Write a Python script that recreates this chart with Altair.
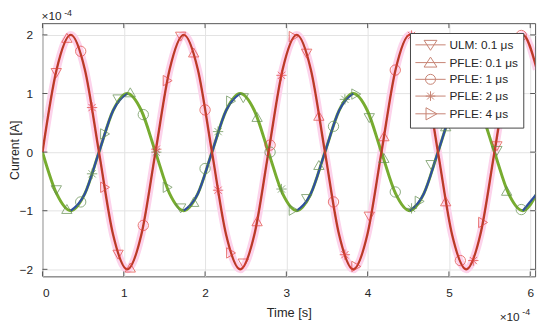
import altair as alt
import pandas as pd

# time in units of 1e-4 s, current in units of 1e-4 A
curve_t = [0, 0.174, 0.348, 0.521, 0.695, 0.869, 1.043, 1.216, 1.39, 1.564, 1.738, 1.911,
           2.085, 2.259, 2.433, 2.606, 2.78, 2.954, 3.128, 3.301, 3.475, 3.649, 3.823, 3.996,
           4.17, 4.344, 4.518, 4.691, 4.865, 5.039, 5.213, 5.386, 5.56, 5.734, 5.908, 6.081]
red_curve = [0, 1.41, 2.0, 1.41, 0, -1.41, -2.0, -1.41, 0, 1.41, 2.0, 1.41,
             0, -1.41, -2.0, -1.41, 0, 1.41, 2.0, 1.41, 0, -1.41, -2.0, -1.41,
             0, 1.41, 2.0, 1.41, 0, -1.41, -2.0, -1.41, 0, 1.41, 2.0, 1.41]
green_curve = [0, -0.71, -1.0, -0.71, 0, 0.71, 1.0, 0.71, 0, -0.71, -1.0, -0.71,
               0, 0.71, 1.0, 0.71, 0, -0.71, -1.0, -0.71, 0, 0.71, 1.0, 0.71,
               0, -0.71, -1.0, -0.71, 0, 0.71, 1.0, 0.71, 0, -0.71, -1.0, -0.71]
blue_from = [0.348, 1.738, 3.128, 4.518, 5.908]
blue_to = [1.043, 2.433, 3.823, 5.213, 6.081]

series = ["ULM: 0.1 μs", "PFLE: 0.1 μs", "PFLE: 1 μs", "PFLE: 2 μs", "PFLE: 4 μs"]
mk_t = [
    [0.17, 0.93, 1.70, 2.47, 3.25, 4.02, 4.78, 5.59],
    [0.30, 1.08, 1.86, 2.64, 3.40, 4.20, 4.96, 5.71],
    [0.47, 1.24, 2.00, 2.80, 3.58, 4.34, 5.14, 5.89],
    [0.61, 1.40, 2.16, 2.94, 3.72, 4.54, 5.30],
    [0.77, 1.54, 2.32, 3.09, 3.86, 4.64, 5.42],
]
mk_red = [
    [1.35, -1.75, 1.97, -1.9, 1.68, -1.1, 0.6, 0.1],
    [1.95, -1.97, 1.70, -1.18, 0.62, 0.27, -0.84, 1.25],
    [1.72, -1.25, 0.72, 0.12, -0.85, 1.40, -1.85, 1.99],
    [0.76, 0.05, -0.65, 1.31, -1.75, 1.99, -1.85],
    [-0.6, 1.22, -1.72, 1.97, -1.95, 1.68, -1.2],
]
mk_green = [
    [-0.65, 0.9, -0.96, 0.92, -0.8, 0.58, -0.22, 0.02],
    [-0.97, 1.02, -0.85, 0.6, -0.22, -0.1, 0.44, -0.66],
    [-0.85, 0.64, -0.28, 0.0, 0.44, -0.68, 0.93, -0.98],
    [-0.37, 0.0, 0.35, -0.63, 0.9, -0.96, 0.92],
    [0.31, -0.6, 0.87, -0.99, 0.99, -0.84, 0.6],
]
x_ticks = [0, 1, 2, 3, 4, 5, 6]
y_ticks = [-2, -1, 0, 1, 2]

W, H = 500, 257
XDOM, YDOM = [0, 6.06], [-2.12, 2.2]
XT, YT = "Time [s]", "Current [A]"

curve = pd.DataFrame({"t": curve_t, "red": red_curve, "green": green_curve})
blue_rows = []
for i, (a, b) in enumerate(zip(blue_from, blue_to)):
    for tt, g in zip(curve_t, green_curve):
        if a - 1e-9 <= tt <= b + 1e-9:
            blue_rows.append({"t": tt, "green": g, "seg": i})
blue = pd.DataFrame(blue_rows)

mrows = []
for s, ts, rs, gs in zip(series, mk_t, mk_red, mk_green):
    for tt, r, g in zip(ts, rs, gs):
        mrows.append({"t": tt, "red": r, "green": g, "series": s})
markers = pd.DataFrame(mrows)

xs = alt.Scale(domain=XDOM, nice=False, zero=False)
ys = alt.Scale(domain=YDOM, nice=False, zero=False)
ax_x = alt.Axis(values=x_ticks, grid=True, gridColor="#e3e3e3", ticks=False, domain=False,
                labelFontSize=12, labelFont="Liberation Sans", labelColor="#262626", labelPadding=11,
                titleFontSize=13, titleFont="Liberation Sans", titleColor="#262626", titleFontWeight="normal",
                titlePadding=9)
ax_y = alt.Axis(values=y_ticks, grid=True, gridColor="#e3e3e3", ticks=False, domain=False,
                labelFontSize=12, labelFont="Liberation Sans", labelColor="#262626", labelPadding=10,
                titleFontSize=12.5, titleFont="Liberation Sans", titleColor="#262626", titleFontWeight="normal",
                titleX=-21, titleY=H / 2, titleBaseline="bottom", titleAngle=270, titleAlign="center")

X = alt.X("t:Q", scale=xs, axis=ax_x, title=XT)
def Y(f):
    return alt.Y(f, scale=ys, axis=ax_y, title=YT)

base = alt.Chart(curve)
pink = base.mark_line(color="#fcd3eb", strokeWidth=8, interpolate="monotone", clip=True).encode(
    x=X, y=Y("red:Q"))
green = base.mark_line(color="#77ac30", strokeWidth=3, interpolate="monotone", clip=True).encode(
    x=X, y=Y("green:Q"))
bluel = alt.Chart(blue).mark_line(color="#2f4fa0", strokeWidth=2.2, interpolate="monotone", clip=True).encode(
    x=X, y=Y("green:Q"), detail="seg:N")
red = base.mark_line(color="#d9362c", strokeWidth=2.4, interpolate="monotone", clip=True).encode(
    x=X, y=Y("red:Q"))
redc = base.mark_line(color="#96472a", strokeWidth=0.9, interpolate="monotone", clip=True).encode(
    x=X, y=Y("red:Q"))

ast = "M-1,0L1,0M0,-1L0,1M-0.7,-0.7L0.7,0.7M-0.7,0.7L0.7,-0.7"
shp = alt.Scale(domain=series, range=["triangle-down", "triangle-up", "circle", ast, "triangle-right"])
mred = alt.Chart(markers).mark_point(filled=False, color="#e0403a", strokeWidth=1, size=110, clip=True).encode(
    x=X, y=Y("red:Q"), shape=alt.Shape("series:N", scale=shp, legend=None))
mgreen = alt.Chart(markers).mark_point(filled=False, color="#5e8a4a", strokeWidth=1, size=110, clip=True).encode(
    x=X, y=Y("green:Q"), shape=alt.Shape("series:N", scale=shp, legend=None))

# legend symbols: line with marker
cx = 1.36
L = "M-1,0L3.72,0"
lg_paths = [
    L + f"M{cx-1.0},-0.7L{cx+1.0},-0.7L{cx},0.85Z",
    L + f"M{cx-1.0},0.7L{cx+1.0},0.7L{cx},-0.85Z",
    L + f"M{cx+0.78},0A0.78,0.78 0 1,1 {cx-0.78},0A0.78,0.78 0 1,1 {cx+0.78},0",
    L + f"M{cx-0.75},0L{cx+0.75},0M{cx},-0.75L{cx},0.75M{cx-0.53},-0.53L{cx+0.53},0.53M{cx-0.53},0.53L{cx+0.53},-0.53",
    L + f"M{cx-0.7},-0.95L{cx-0.7},0.95L{cx+1.0},0Z",
]
leg_df = pd.DataFrame({"series": series, "t": [-10] * 5, "v": [0] * 5})
legend_layer = alt.Chart(leg_df).mark_point(filled=False, color="#b0503a", strokeWidth=1, size=169, clip=True).encode(
    x=X, y=Y("v:Q"),
    shape=alt.Shape("series:N", scale=alt.Scale(domain=series, range=lg_paths),
                    legend=alt.Legend(title=None, orient="none", legendX=373, legendY=10,
                                      symbolSize=169, symbolStrokeWidth=1, labelOffset=21,
                                      labelFontSize=12, labelFont="Liberation Sans", labelColor="#262626",
                                      rowPadding=2, padding=5, strokeColor="#444", fillColor="white",
                                      symbolFillColor="transparent", symbolStrokeColor="#b0503a")))

tk = pd.DataFrame({"t": x_ticks})
tky = pd.DataFrame({"v": y_ticks})
tick_col = "#555555"
tb = alt.Chart(tk).mark_rule(color=tick_col).encode(x=X, y=alt.value(H), y2=alt.value(H - 5))
tt_ = alt.Chart(tk).mark_rule(color=tick_col).encode(x=X, y=alt.value(0), y2=alt.value(5))
tl = alt.Chart(tky).mark_rule(color=tick_col).encode(y=Y("v:Q"), x=alt.value(0), x2=alt.value(5))
tr = alt.Chart(tky).mark_rule(color=tick_col).encode(y=Y("v:Q"), x=alt.value(W), x2=alt.value(W - 5))

txt = pd.DataFrame({"a": [0]})
def label(s, x, y, size):
    return alt.Chart(txt).mark_text(text=s, align="left", baseline="alphabetic", fontSize=size,
                                    font="Liberation Sans", color="#262626").encode(x=alt.value(x), y=alt.value(y))

e1 = label("×10", -1, -3, 12)
e2 = label("-4", 22, -7, 9)
e3 = label("×10", 464, 302, 12)
e4 = label("-4", 487, 296, 9)

chart = alt.layer(pink, green, bluel, red, redc, mgreen, mred, legend_layer, tb, tt_, tl, tr,
                  e1, e2, e3, e4).resolve_scale(shape="independent").properties(
    width=W, height=H, autosize="none",
    padding={"left": 35, "top": 13, "right": 7, "bottom": 50},
).configure_view(stroke="#555555", strokeWidth=1)

chart.save("out.html", embed_options={"renderer": "svg", "actions": False})
